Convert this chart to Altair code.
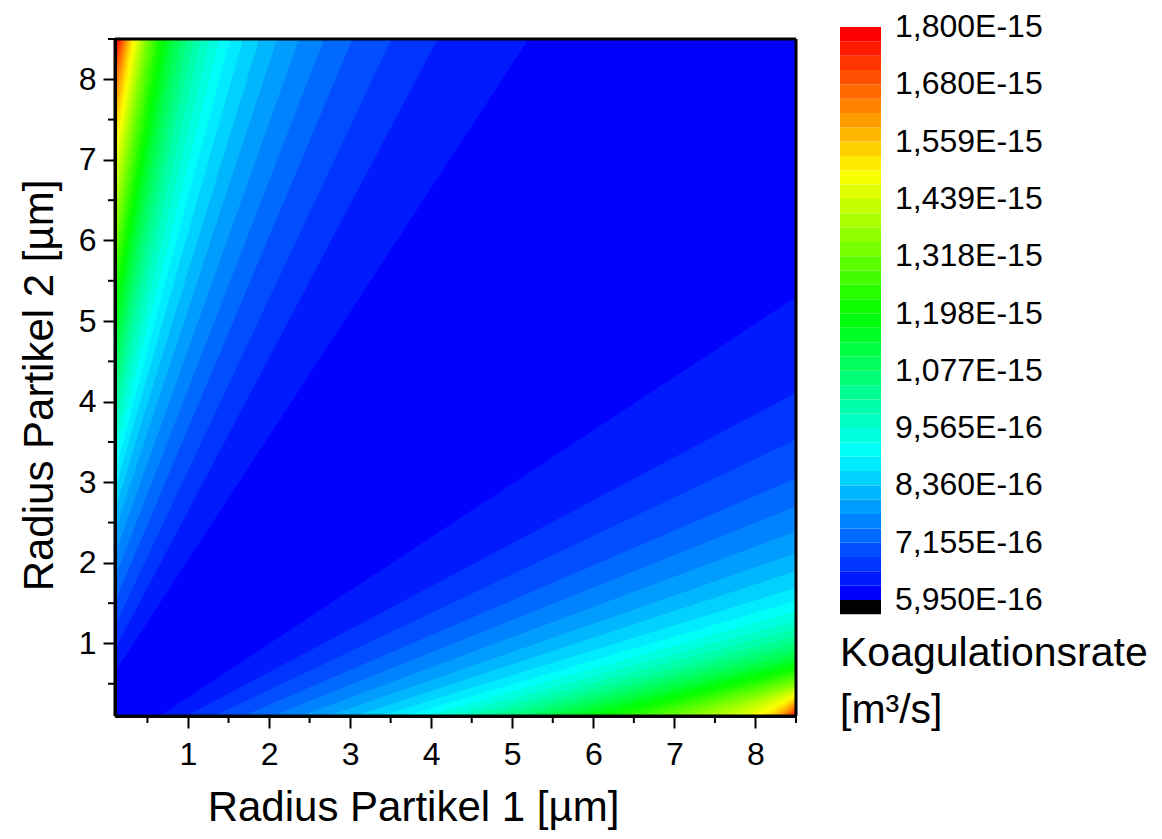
import altair as alt
import pandas as pd

# ---------------- data ----------------
x_range = [0.1, 8.5]          # Radius Partikel 1 [µm]
y_range = [0.1, 8.5]          # Radius Partikel 2 [µm]
major_ticks = [1, 2, 3, 4, 5, 6, 7, 8]
minor_ticks = [0.5, 1.5, 2.5, 3.5, 4.5, 5.5, 6.5, 7.5, 8.5]

# contour boundaries k = 1..39 (boundary k separates colour band k-1 from band k)
# lower-right half:
bottom_cross = [0.65, 0.98, 1.32, 1.68, 2.04, 2.39, 2.73, 3.06, 3.37, 3.67,
                3.95, 4.21, 4.46, 4.70, 4.93, 5.16, 5.39, 5.62, 5.85, 6.08,
                6.30, 6.52, 6.74, 6.95, 7.15, 7.36, 7.56, 7.75, 7.92, 8.06,
                8.15, 8.22, 8.28, 8.33, 8.37, 8.40, 8.43, 8.455, 8.475]   # x on lower edge
right_cross = [5.30, 4.11, 3.53, 3.05, 2.70, 2.39, 2.12, 1.90, 1.69, 1.53,
               1.40, 1.28, 1.18, 1.09, 1.01, 0.94, 0.87, 0.81, 0.76, 0.71,
               0.66, 0.62, 0.58, 0.54, 0.50, 0.47, 0.44, 0.41, 0.38, 0.35,
               0.32, 0.295, 0.27, 0.245, 0.22, 0.20, 0.18, 0.16, 0.14]  # y on right edge
# upper-left half:
left_cross = [0.65, 0.93, 1.22, 1.52, 1.82, 2.11, 2.39, 2.66, 2.90, 3.12,
              3.32, 3.52, 3.72, 3.92, 4.12, 4.32, 4.52, 4.72, 4.91, 5.10,
              5.30, 5.50, 5.70, 5.90, 6.10, 6.30, 6.50, 6.70, 6.89, 7.08,
              7.27, 7.45, 7.62, 7.78, 7.93, 8.07, 8.19, 8.30, 8.40]      # y on left edge
top_cross = [5.20, 4.08, 3.51, 3.03, 2.68, 2.37, 2.10, 1.88, 1.68, 1.52,
             1.39, 1.27, 1.16, 1.07, 0.99, 0.92, 0.85, 0.79, 0.74, 0.69,
             0.64, 0.60, 0.56, 0.52, 0.48, 0.45, 0.42, 0.39, 0.36, 0.33,
             0.30, 0.28, 0.26, 0.24, 0.22, 0.20, 0.18, 0.16, 0.14]      # x on top edge

# colour bar (values in units of 1e-16 m³/s)
level_min = 5.950
level_max = 18.00
n_bands = 40
cb_label_values = [5.950, 7.155, 8.360, 9.565, 10.77, 11.975, 13.18, 14.385, 15.59, 16.795, 18.00]
cb_labels = ["5,950E-16", "7,155E-16", "8,360E-16", "9,565E-16", "1,077E-15", "1,198E-15",
             "1,318E-15", "1,439E-15", "1,559E-15", "1,680E-15", "1,800E-15"]
legend_title = ["Koagulationsrate", "[m³/s]"]
x_title = "Radius Partikel 1 [µm]"
y_title = "Radius Partikel 2 [µm]"

# ---------------- styling ----------------
FONT = "Liberation Sans"
anchors = [(0.0, (0, 0, 255)), (0.25, (0, 255, 255)), (0.5, (0, 255, 0)),
           (0.75, (255, 255, 0)), (1.0, (255, 0, 0))]


def band_color(k):
    t = k / (n_bands - 1)
    for (t0, c0), (t1, c1) in zip(anchors[:-1], anchors[1:]):
        if t <= t1 + 1e-12:
            f = (t - t0) / (t1 - t0)
            rgb = [round(a + (b - a) * f) for a, b in zip(c0, c1)]
            return "#%02x%02x%02x" % tuple(rgb)
    return "#ff0000"


W, H = 681, 677
xs = alt.Scale(domain=x_range, nice=False, zero=False)
ys = alt.Scale(domain=y_range, nice=False, zero=False)

x_axis = alt.Axis(values=major_ticks, format="d", tickSize=12, tickWidth=2,
                  tickColor="black", domain=True, domainColor="black", domainWidth=3,
                  grid=False, labelFont=FONT, labelFontSize=32, zindex=1,
                  labelColor="black", labelPadding=11, labelOverlap=False, title=x_title,
                  titleFont=FONT, titleFontSize=42, titleFontWeight="normal", titleColor="black",
                  titlePadding=17, titleX=298)
y_axis = alt.Axis(values=major_ticks, format="d", tickSize=12, tickWidth=2,
                  tickColor="black", domain=True, domainColor="black", domainWidth=3,
                  grid=False, labelFont=FONT, labelFontSize=32, zindex=1,
                  labelColor="black", labelPadding=7, labelOverlap=False, title=y_title,
                  titleFont=FONT, titleFontSize=42, titleFontWeight="normal", titleColor="black",
                  titlePadding=17, titleY=346)

# ---------------- main contour plot ----------------
frame_df = pd.DataFrame({"x0": [x_range[0]], "x1": [x_range[1]],
                         "y0": [y_range[0]], "y1": [y_range[1]]})

# region "value above boundary k" of each half, drawn as a vertical area (y .. y2)
rows = []
for i in range(len(bottom_cross)):
    k = i + 1
    # lower-right half: from the bottom edge up to boundary k
    rows.append({"k": k, "half": "lr", "x": bottom_cross[i], "y": y_range[0], "y2": y_range[0]})
    rows.append({"k": k, "half": "lr", "x": x_range[1], "y": right_cross[i], "y2": y_range[0]})
    # upper-left half: from boundary k up to the top edge
    rows.append({"k": k, "half": "ul", "x": x_range[0], "y": left_cross[i], "y2": y_range[1]})
    rows.append({"k": k, "half": "ul", "x": top_cross[i], "y": y_range[1], "y2": y_range[1]})
bound_df = pd.DataFrame(rows)

bg = alt.Chart(frame_df).mark_rect(color=band_color(0)).encode(
    x=alt.X("x0:Q", scale=xs, axis=x_axis), x2="x1:Q",
    y=alt.Y("y0:Q", scale=ys, axis=y_axis), y2="y1:Q")

layers = [bg]
for k in range(1, n_bands):
    lay = alt.Chart(bound_df).transform_filter(alt.datum.k == k).mark_area(
        color=band_color(k), opacity=1).encode(
        x=alt.X("x:Q", scale=xs, axis=x_axis),
        y=alt.Y("y:Q", scale=ys, axis=y_axis),
        y2="y2:Q",
        detail="half:N")
    layers.append(lay)

# frame (four sides) and minor ticks
edge_df = pd.DataFrame({"x0": [x_range[0], x_range[0], x_range[0], x_range[1]],
                        "x1": [x_range[1], x_range[1], x_range[0], x_range[1]],
                        "y0": [y_range[0], y_range[1], y_range[0], y_range[0]],
                        "y1": [y_range[0], y_range[1], y_range[1], y_range[1]]})
frame = alt.Chart(edge_df).mark_rule(color="black", strokeWidth=3).encode(
    x=alt.X("x0:Q", scale=xs, axis=x_axis), x2="x1:Q",
    y=alt.Y("y0:Q", scale=ys, axis=y_axis), y2="y1:Q")
minor_df = pd.DataFrame({"m": minor_ticks})
minor_x = alt.Chart(minor_df).mark_rule(color="black", strokeWidth=2).encode(
    x=alt.X("m:Q", scale=xs, axis=x_axis), y=alt.value(H), y2=alt.value(H + 7))
minor_y = alt.Chart(minor_df).mark_rule(color="black", strokeWidth=2).encode(
    y=alt.Y("m:Q", scale=ys, axis=y_axis), x=alt.value(0), x2=alt.value(-7))
layers += [frame, minor_x, minor_y]

main = alt.layer(*layers).properties(width=W, height=H)

# ---------------- colour bar ----------------
step = (level_max - level_min) / n_bands
cb_rows = [{"lo": level_min - step, "hi": level_min, "col": "#000000"}]
for k in range(n_bands):
    cb_rows.append({"lo": level_min + k * step, "hi": level_min + (k + 1) * step,
                    "col": band_color(k)})
cb_df = pd.DataFrame(cb_rows)
lab_df = pd.DataFrame({"v": cb_label_values, "t": cb_labels})

px_per_step = 14.325
top_off = 561.0  # pixel of level_min below the view top
cb_scale = alt.Scale(domain=[level_min - (H - top_off) / px_per_step * step,
                             level_min + top_off / px_per_step * step],
                     nice=False, zero=False)

cb_bar = alt.Chart(cb_df).mark_rect().encode(
    x=alt.value(0), x2=alt.value(41),
    y=alt.Y("lo:Q", scale=cb_scale, axis=None), y2="hi:Q",
    color=alt.Color("col:N", scale=None))
cb_text = alt.Chart(lab_df).mark_text(align="left", baseline="middle", font=FONT,
                                      fontSize=32, color="black").encode(
    x=alt.value(55), y=alt.Y("v:Q", scale=cb_scale, axis=None), text="t:N")
t1 = alt.Chart(pd.DataFrame({"t": [legend_title[0]]})).mark_text(
    align="left", baseline="middle", font=FONT, fontSize=41, color="black").encode(
    x=alt.value(0), y=alt.value(615), text="t:N")
t2 = alt.Chart(pd.DataFrame({"t": [legend_title[1]]})).mark_text(
    align="left", baseline="middle", font=FONT, fontSize=41, color="black").encode(
    x=alt.value(0), y=alt.value(672), text="t:N")

cbar = alt.layer(cb_bar, cb_text, t1, t2).properties(width=41, height=H)

chart = alt.hconcat(main, cbar, spacing=44, bounds="flush").properties(
    padding={"left": 18, "top": 11, "right": 5, "bottom": 5},
    background="white"
).configure_view(strokeWidth=0)

chart.save("out.html", embed_options={"renderer": "svg", "actions": False})
